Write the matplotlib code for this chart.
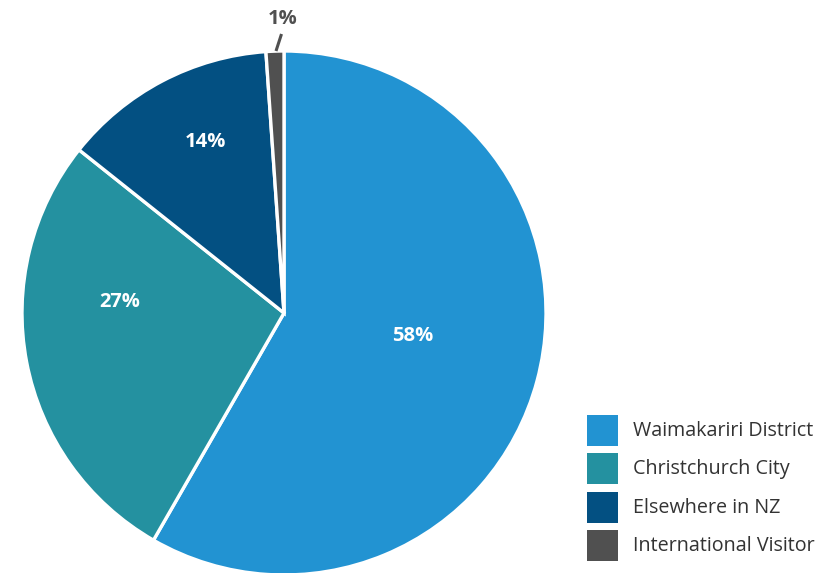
import matplotlib
matplotlib.use("Agg")
import matplotlib.pyplot as plt
from matplotlib.patches import Rectangle

categories = ["Waimakariri District", "Christchurch City", "Elsewhere in NZ", "International Visitor"]
values = [58.3, 27.4, 13.2, 1.1]
labels = ["58%", "27%", "14%", "1%"]
colors = ["#2293D2", "#2491A0", "#035082", "#505050"]

plt.rcParams['font.family'] = ['Open Sans', 'DejaVu Sans']

W, H = 825, 573
fig = plt.figure(figsize=(W / 100, H / 100), dpi=100)
ax = fig.add_axes([0, 0, 1, 1])
ax.set_xlim(0, W)
ax.set_ylim(0, H)
ax.set_aspect('equal')
ax.axis('off')

cx, cy, r = 284, H - 313, 262
wedges, _ = ax.pie(values, colors=colors, startangle=90, counterclock=False,
                   center=(cx, cy), radius=r,
                   wedgeprops=dict(edgecolor="white", linewidth=2.4))
ax.set_xlim(0, W)
ax.set_ylim(0, H)

# label positions (pixel coords, top-origin)
label_pos = [(413, 336), (120, 302), (205, 142), (283, 19)]
for lab, (x, y), c in zip(labels, label_pos, ["white", "white", "white", "#505050"]):
    ax.text(x, H - y, lab, ha="center", va="center", fontsize=14.5,
            fontweight="bold", color=c)
# leader line for the small slice
ax.plot([276, 281.5], [H - 51, H - 34], color="#505050", lw=2.2, solid_capstyle="butt")

# legend
for i, (cat, col) in enumerate(zip(categories, colors)):
    top = 415 + i * 38.3
    ax.add_patch(Rectangle((587, H - top - 31), 31, 31, facecolor=col, edgecolor="none"))
    ax.text(633, H - top - 16, cat, ha="left", va="center", fontsize=14.2, color="#333333")

fig.savefig("out.png", dpi=100)
